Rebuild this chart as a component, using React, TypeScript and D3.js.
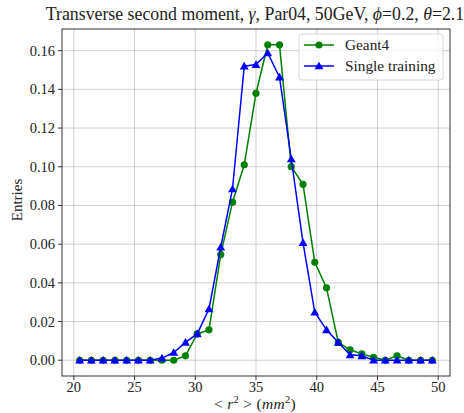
import React from "react";
import * as d3 from "d3";

const binCenters: number[] = Array.from({ length: 31 }, (_, k) => 20 + (30 / 31) * (k + 0.5));
const geant4: number[] = [
  0, 0, 0, 0, 0, 0, 0, 0, 0, 0.0023, 0.0136, 0.0157, 0.0546, 0.0817, 0.101, 0.138,
  0.163, 0.163, 0.1, 0.0909, 0.0506, 0.0374, 0.0092, 0.0054, 0.0033, 0.0015, 0, 0.0023, 0, 0, 0,
];
const singleTraining: number[] = [
  0, 0, 0, 0, 0, 0, 0, 0.0011, 0.004, 0.0092, 0.0136, 0.0265, 0.0585, 0.0885, 0.152, 0.1528,
  0.1588, 0.1463, 0.104, 0.0608, 0.0248, 0.0157, 0.0092, 0.0028, 0.0023, 0, 0, 0, 0, 0, 0,
];
const xTicks: number[] = [20, 25, 30, 35, 40, 45, 50];
const yTicks: number[] = [0, 0.02, 0.04, 0.06, 0.08, 0.1, 0.12, 0.14, 0.16];
const seriesNames: string[] = ["Geant4", "Single training"];

const W = 464;
const H = 413;
const L = 62;
const R = 450;
const T = 29;
const B = 376;
const FONT = "'Liberation Serif', serif";
const fs = (size: number): React.CSSProperties => ({ fontFamily: FONT, fontSize: size });

export default function App() {
  const x = d3.scaleLinear().domain([19.03, 50.97]).range([L, R]);
  const y = d3.scaleLinear().domain([-0.00815, 0.1712]).range([B, T]);
  const line = d3
    .line<number>()
    .x((_, i) => x(binCenters[i]))
    .y((d) => y(d));
  const tri = d3.symbol().type(d3.symbolTriangle).size(34)();

  return (
    <svg width={W} height={H} style={{ position: "absolute", left: 0, top: 0 }}>
      <rect x={0} y={0} width={W} height={H} fill="white" />
      {xTicks.map((t) => (
        <line key={"gx" + t} x1={x(t)} x2={x(t)} y1={T} y2={B} stroke="#b0b0b0" strokeOpacity={0.6} strokeWidth={1} />
      ))}
      {yTicks.map((t) => (
        <line key={"gy" + t} x1={L} x2={R} y1={y(t)} y2={y(t)} stroke="#b0b0b0" strokeOpacity={0.6} strokeWidth={1} />
      ))}
      <path d={line(geant4) || ""} fill="none" stroke="green" strokeWidth={1.5} />
      {geant4.map((v, i) => (
        <circle key={"g" + i} cx={x(binCenters[i])} cy={y(v)} r={3.6} fill="green" />
      ))}
      <path d={line(singleTraining) || ""} fill="none" stroke="blue" strokeWidth={1.5} />
      {singleTraining.map((v, i) => (
        <path key={"b" + i} d={tri || ""} transform={`translate(${x(binCenters[i])},${y(v) + 0.8})`} fill="blue" />
      ))}
      <rect x={L} y={T} width={R - L} height={B - T} fill="none" stroke="#333" strokeWidth={1} />
      {xTicks.map((t) => (
        <g key={"xt" + t}>
          <line x1={x(t)} x2={x(t)} y1={B} y2={B + 4} stroke="#333" />
          <text x={x(t)} y={B + 16} textAnchor="middle" style={fs(14.5)} fill="#222">
            {t}
          </text>
        </g>
      ))}
      {yTicks.map((t) => (
        <g key={"yt" + t}>
          <line x1={L - 4} x2={L} y1={y(t)} y2={y(t)} stroke="#333" />
          <text x={L - 7} y={y(t) + 5} textAnchor="end" style={fs(14.5)} fill="#222">
            {t.toFixed(2)}
          </text>
        </g>
      ))}
      <text x={255} y={409} textAnchor="middle" style={fs(15.5)} fill="#222" letterSpacing={0.3}>
        {"< "}
        <tspan fontStyle="italic">r</tspan>
        <tspan fontSize={10.5} dy={-6}>2</tspan>
        <tspan dy={6}>{" > ("}</tspan>
        <tspan fontStyle="italic">mm</tspan>
        <tspan fontSize={10.5} dy={-6}>2</tspan>
        <tspan dy={6}>)</tspan>
      </text>
      <text transform={`translate(22,200) rotate(-90)`} textAnchor="middle" style={fs(15)} fill="#222">
        Entries
      </text>
      <text x={255} y={20} textAnchor="middle" style={fs(17.8)} fill="#222">
        {"Transverse second moment, "}
        <tspan fontStyle="italic">γ</tspan>
        {", Par04, 50GeV, "}
        <tspan fontStyle="italic">ϕ</tspan>
        {"=0.2, "}
        <tspan fontStyle="italic">θ</tspan>
        {"=2.1"}
      </text>
      <rect x={299} y={34} width={144} height={46} rx={3} fill="white" fillOpacity={0.8} stroke="#d5d5d5" />
      <line x1={304} x2={334} y1={45} y2={45} stroke="green" strokeWidth={1.5} />
      <circle cx={319} cy={45} r={3.6} fill="green" />
      <text x={345} y={50} style={fs(15.3)} fill="#222">
        {seriesNames[0]}
      </text>
      <line x1={304} x2={334} y1={66} y2={66} stroke="blue" strokeWidth={1.5} />
      <path d={tri || ""} transform={`translate(319,66.8)`} fill="blue" />
      <text x={345} y={71} style={fs(15.3)} fill="#222">
        {seriesNames[1]}
      </text>
    </svg>
  );
}
